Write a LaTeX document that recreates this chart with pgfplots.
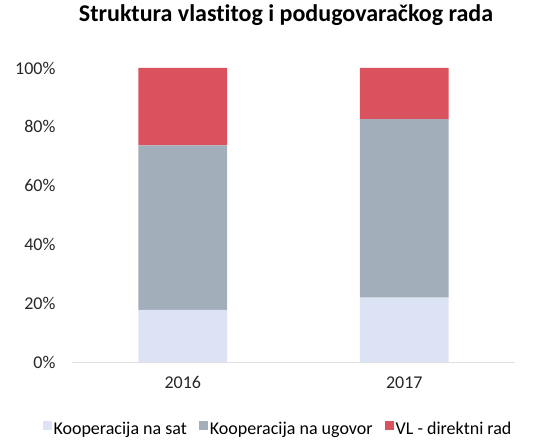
\documentclass[border=0pt]{standalone}
\usepackage{pgfplots}
\pgfplotsset{compat=1.18}
\usepackage{fontspec}
\setmainfont{Carlito}[Ligatures=NoCommon]

\definecolor{cSat}{HTML}{DCE3F4}
\definecolor{cUgovor}{HTML}{A2AFBB}
\definecolor{cVL}{HTML}{D9525E}

\begin{document}
\begin{tikzpicture}
% page frame: plot area sits at (0,0)-(443pt,294pt)
\path[use as bounding box] (-72pt,-80pt) rectangle (483pt,362pt);
\begin{axis}[
    at={(0,0)}, anchor=south west,
    ybar stacked,
    scale only axis,
    width=443pt,
    height=294pt,
    bar width=0.4,
    xmin=-0.5, xmax=1.5,
    ymin=0, ymax=100,
    xtick=data,
    xticklabels={2016,2017},
    ytick={0,20,40,60,80,100},
    yticklabel={\pgfmathprintnumber{\tick}\%},
    /pgf/number format/assume math mode=true,
    tick label style={font=\fontsize{18}{21}\selectfont, text=black!85},
    xticklabel style={yshift=-11pt},
    yticklabel style={xshift=-13pt},
    axis x line*=bottom,
    axis y line*=left,
    x axis line style={draw=black!12, line width=0.8pt},
    y axis line style={draw=none},
    major tick length=0pt,
    title={\bfseries Struktura vlastitog i podugovaračkog rada},
    title style={font=\fontsize{24}{28}\selectfont, at={(0.483,1)}, anchor=base, yshift=40pt},
    legend style={at={(0.465,-0.19)}, anchor=north, draw=none,
        legend columns=3, font=\fontsize{18}{21}\selectfont,
        /tikz/every even column/.append style={column sep=10pt}},
    legend image code/.code={\fill[#1] (0pt,-1pt) rectangle (9pt,8pt);},
    legend cell align=left,
    clip=false,
]
\addplot[fill=cSat, draw=none] coordinates {(0,17.7) (1,21.9)};
\addplot[fill=cUgovor, draw=none] coordinates {(0,56.0) (1,60.7)};
\addplot[fill=cVL, draw=none] coordinates {(0,26.3) (1,17.4)};
\legend{Kooperacija na sat, Kooperacija na ugovor, VL - direktni rad}
\end{axis}
\end{tikzpicture}
\end{document}
